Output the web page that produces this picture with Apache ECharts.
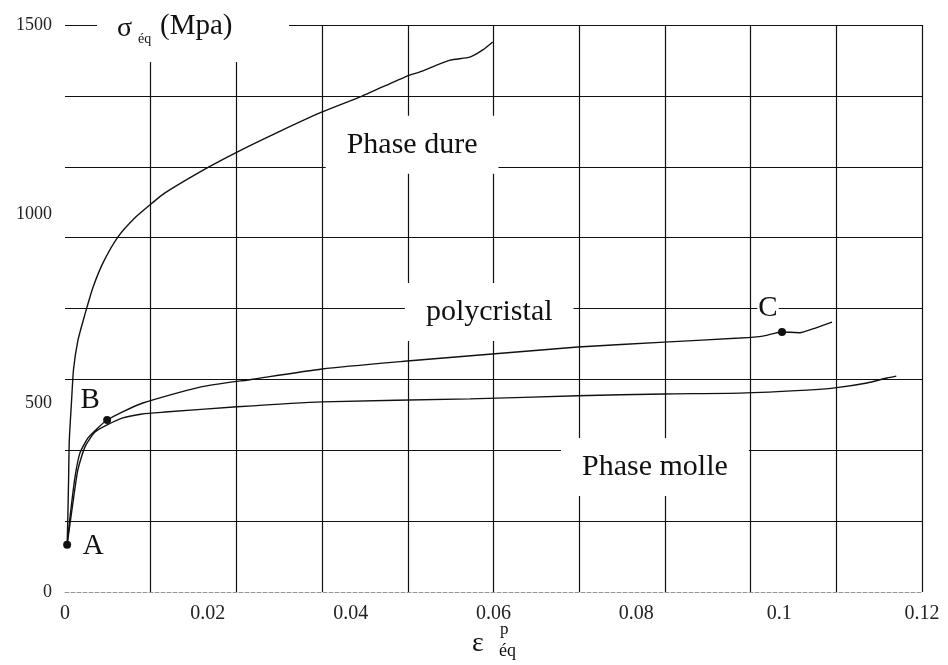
<!DOCTYPE html>
<html>
<head>
<meta charset="utf-8">
<script src="https://cdn.jsdelivr.net/npm/echarts@6/dist/echarts.min.js"></script>
<style>
  html, body { margin: 0; padding: 0; background: #fff; }
  #chart { width: 948px; height: 665px; }
</style>
</head>
<body>
<div id="chart"></div>
<script>
// axis ticks
const xLabelTicks = [0, 0.02, 0.04, 0.06, 0.08, 0.1, 0.12];
const yLabelTicks = [0, 500, 1000, 1500];

// curves [eps, sigma]
const phaseDure = [
    [0.0003, 125], [0.0004, 200], [0.0005, 296], [0.0006, 400], [0.0009, 500],
    [0.0012, 590], [0.0018, 665], [0.0025, 715], [0.0031, 755], [0.0039, 805],
    [0.0053, 870], [0.0074, 939], [0.0099, 992], [0.0122, 1029], [0.014, 1056],
    [0.0199, 1122], [0.0241, 1164], [0.030, 1218], [0.036, 1270], [0.0416, 1312],
    [0.0479, 1365], [0.0497, 1376], [0.0539, 1407], [0.0567, 1415], [0.0585, 1434],
    [0.0599, 1455]
];
const polycristal = [
    [0.0003, 125], [0.0007, 198], [0.0014, 304], [0.0021, 368], [0.0032, 407],
    [0.0046, 434], [0.0059, 455], [0.008, 476], [0.0109, 500], [0.0189, 542],
    [0.0263, 563], [0.036, 590], [0.0479, 611], [0.0581, 627], [0.0718, 648],
    [0.0839, 661], [0.0945, 672], [0.0977, 677], [0.1004, 688], [0.1029, 686],
    [0.1047, 696], [0.1074, 714]
];
const phaseMolle = [
    [0.0003, 125], [0.0011, 235], [0.0018, 323], [0.0028, 384], [0.0042, 423],
    [0.0059, 442], [0.008, 460], [0.0108, 471], [0.014, 476], [0.0241, 490],
    [0.036, 503], [0.0567, 511], [0.0718, 519], [0.0839, 524], [0.0945, 526],
    [0.1039, 534], [0.1078, 540], [0.1123, 553], [0.1151, 566], [0.1164, 571]
];

// marked points A, B, C
const pointNames = ['A', 'B', 'C'];
const pointValues = [[0.0003, 125], [0.0059, 455], [0.1004, 688]];

// curve captions (data coords)
const captionNames = ['Phase dure', 'polycristal', 'Phase molle'];
const captionValues = [[0.0486, 1183], [0.0594, 741], [0.0826, 331]];

const serif = "'Liberation Serif', 'Times New Roman', serif";
const black = '#111';

let myChart = echarts.init(document.getElementById('chart'));

const curve = (name, data) => ({
    name: name,
    type: 'line',
    data: data,
    smooth: 0.2,
    symbol: 'none',
    lineStyle: { color: black, width: 1.4 },
    z: 3
});

const labelOffsets = [[26, 2], [-17, -20], [-14, -24]];

let option = {
    backgroundColor: '#fff',
    animation: false,
    grid: { left: 65, top: 25, width: 857, height: 567 },
    xAxis: [{
        type: 'value',
        min: 0,
        max: 0.12,
        interval: 0.02,
        axisLine: { show: true, lineStyle: { color: '#999', type: 'dashed', width: 1 } },
        axisTick: { show: false },
        splitLine: { show: false },
        axisLabel: {
            margin: 12,
            fontFamily: serif,
            fontSize: 20,
            color: '#222',
            formatter: v => {
                const hit = xLabelTicks.find(t => Math.abs(t - v) < 1e-9);
                return hit === undefined ? '' : String(hit);
            }
        }
    }, {
        type: 'value',
        min: 0,
        max: 0.12,
        interval: 0.012,
        position: 'bottom',
        axisLine: { show: false },
        axisTick: { show: false },
        axisLabel: { show: false },
        splitLine: { show: true, showMinLine: false, lineStyle: { color: black, width: 1.2 } }
    }],
    yAxis: [{
        type: 'value',
        min: 0,
        max: 1500,
        interval: 500,
        axisLine: { show: false },
        axisTick: { show: false },
        splitLine: { show: false },
        axisLabel: {
            margin: 13,
            fontFamily: serif,
            fontSize: 18,
            color: '#222',
            formatter: v => yLabelTicks.includes(v) ? String(v) : ''
        }
    }, {
        type: 'value',
        min: 0,
        max: 1500,
        interval: 187.5,
        position: 'left',
        axisLine: { show: false },
        axisTick: { show: false },
        axisLabel: { show: false },
        splitLine: { show: true, showMinLine: false, lineStyle: { color: black, width: 1.2 } }
    }],
    series: [
        curve('Phase dure', phaseDure),
        curve('polycristal', polycristal),
        curve('Phase molle', phaseMolle),
        {
            name: 'captions',
            type: 'scatter',
            symbolSize: 0,
            silent: true,
            itemStyle: { opacity: 1 },
            data: captionValues.map((v, i) => ({ value: v, name: captionNames[i] })),
            label: {
                show: true,
                position: 'inside',
                formatter: '{b}',
                fontFamily: serif,
                fontSize: 30,
                color: black,
                opacity: 1,
                backgroundColor: '#fff',
                padding: [14, 21]
            },
            z: 4
        },
        {
            name: 'points',
            type: 'scatter',
            symbol: 'circle',
            symbolSize: 8,
            itemStyle: { color: black, opacity: 1 },
            data: pointValues.map((v, i) => ({
                value: v,
                name: pointNames[i],
                label: { offset: labelOffsets[i] }
            })),
            label: {
                show: true,
                position: 'inside',
                formatter: '{b}',
                fontFamily: serif,
                fontSize: 29,
                color: black,
                opacity: 1,
                backgroundColor: '#fff',
                padding: [0, 1]
            },
            z: 5
        }
    ],
    graphic: [
        // y-axis title, white box hides grid lines behind it
        { type: 'rect', left: 97, top: 0, z: 100, shape: { width: 192, height: 62 }, style: { fill: '#fff' } },
        { type: 'text', left: 117, top: 15, z: 101, style: { text: 'σ', font: '28px ' + serif, fill: black } },
        { type: 'text', left: 138, top: 32, z: 101, style: { text: 'éq', font: '14px ' + serif, fill: black } },
        { type: 'text', left: 160, top: 12, z: 101, style: { text: '(Mpa)', font: '29px ' + serif, fill: black } },
        // x-axis title
        { type: 'text', left: 472, top: 630, z: 101, style: { text: 'ε', font: '28px ' + serif, fill: black } },
        { type: 'text', left: 500, top: 621, z: 101, style: { text: 'p', font: '17px ' + serif, fill: black } },
        { type: 'text', left: 499, top: 642, z: 101, style: { text: 'éq', font: '18px ' + serif, fill: black } }
    ]
};

if (option && typeof option === 'object') {
    myChart.setOption(option, true);
}
</script>
</body>
</html>
